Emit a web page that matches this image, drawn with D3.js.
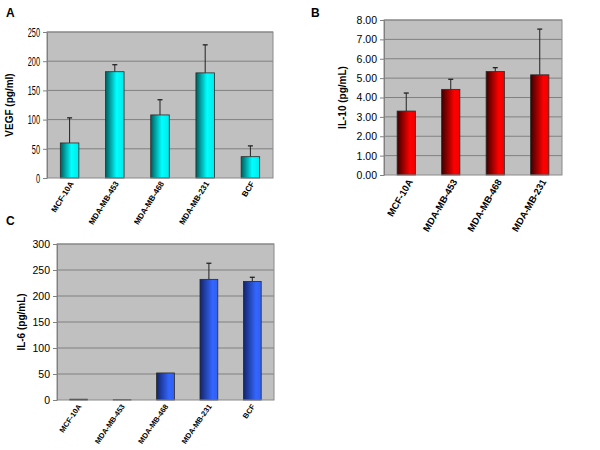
<!DOCTYPE html>
<html>
<head>
<meta charset="utf-8">
<script src="https://cdn.jsdelivr.net/npm/d3@7"></script>
<style>
  body { margin: 0; background: #fff; }
  text { font-family: Arial, "Liberation Sans", sans-serif; }
</style>
</head>
<body>
<script>
// values
var cellLines = ["MCF-10A", "MDA-MB-453", "MDA-MB-468", "MDA-MB-231", "BCF"];
var il10Lines = ["MCF-10A", "MDA-MB-453", "MDA-MB-468", "MDA-MB-231"];

var vegfMean = [60, 182, 108, 180, 36.5];
var vegfErr  = [43, 12, 26, 48, 18.5];

var il10Mean = [3.30, 4.42, 5.34, 5.17];
var il10Err  = [0.93, 0.52, 0.20, 2.36];

var il6Mean = [1.5, 0.5, 52, 232, 228];
var il6Err  = [0, 0, 0, 31, 8];

var vegfTicks = [0, 50, 100, 150, 200, 250];
var il10Ticks = [0, 1, 2, 3, 4, 5, 6, 7, 8];
var il6Ticks  = [0, 50, 100, 150, 200, 250, 300];

var width = 600, height = 450;

const svg = d3.select("body")
    .append("svg")
    .attr("width", width)
    .attr("height", height);

// bar gradients (dark left edge, bright right side)
var defs = svg.append("defs");
function gradient(id, stops) {
    var lg = defs.append("linearGradient").attr("id", id)
        .attr("x1", "0%").attr("x2", "100%").attr("y1", "0%").attr("y2", "0%");
    stops.forEach(s => lg.append("stop").attr("offset", s[0]).attr("stop-color", s[1]));
}
gradient("cyan", [["0%", "#005c5c"], ["60%", "#00ffff"], ["100%", "#00e8e8"]]);
gradient("red",  [["0%", "#3c0000"], ["70%", "#ff0000"], ["100%", "#f00000"]]);
gradient("blue", [["0%", "#14246a"], ["70%", "#3366ff"], ["100%", "#3060f0"]]);

var panels = [
    {letter: "A", lx: 6, ly: 17, cats: cellLines, mean: vegfMean, err: vegfErr, ticks: vegfTicks,
     left: 47, right: 273, top: 32, bottom: 178, fill: "url(#cyan)", fmt: d => d,
     title: "VEGF (pg/ml)", tx: 13, narrow: true, labelSize: 8, angle: -58, ldx: 2, ldy: 4},
    {letter: "B", lx: 311, ly: 17, cats: il10Lines, mean: il10Mean, err: il10Err, ticks: il10Ticks,
     left: 384, right: 562, top: 20, bottom: 175, fill: "url(#red)", fmt: d3.format(".2f"),
     title: "IL-10 (pg/mL)", tx: 346, narrow: false, labelSize: 9.5, angle: -60, ldx: 4, ldy: 5},
    {letter: "C", lx: 6, ly: 225, cats: cellLines, mean: il6Mean, err: il6Err, ticks: il6Ticks,
     left: 57, right: 274, top: 244, bottom: 400, fill: "url(#blue)", fmt: d => d,
     title: "IL-6 (pg/mL)", tx: 25, narrow: false, labelSize: 7.5, angle: -55, ldx: 1, ldy: 5}
];

panels.forEach(drawPanel);

function drawPanel(p) {
    var g = svg.append("g");

    var xscale = d3.scaleBand()
        .domain(p.cats)
        .range([p.left, p.right]);

    var yscale = d3.scaleLinear()
        .domain([0, d3.max(p.ticks)])
        .range([p.bottom, p.top]);

    var rows = p.cats.map((c, i) => ({cat: c, mean: p.mean[i], err: p.err[i]}));
    var bw = xscale.bandwidth() * 0.41;

    // plot area
    g.append("rect")
        .attr("x", p.left).attr("y", p.top)
        .attr("width", p.right - p.left).attr("height", p.bottom - p.top)
        .attr("fill", "#c0c0c0");

    // gridlines
    g.selectAll(".grid")
        .data(p.ticks.filter(t => t > 0))
        .join("line")
        .attr("x1", p.left).attr("x2", p.right)
        .attr("y1", d => yscale(d)).attr("y2", d => yscale(d))
        .attr("stroke", "#808080")
        .attr("stroke-width", 1);

    // error bars (upper only)
    var eb = g.selectAll(".err")
        .data(rows.filter(d => d.err > 0))
        .join("g");
    eb.append("line")
        .attr("x1", d => xscale(d.cat) + xscale.bandwidth() / 2)
        .attr("x2", d => xscale(d.cat) + xscale.bandwidth() / 2)
        .attr("y1", d => yscale(d.mean))
        .attr("y2", d => yscale(d.mean + d.err))
        .attr("stroke", "#222").attr("stroke-width", 1);
    eb.append("line")
        .attr("x1", d => xscale(d.cat) + xscale.bandwidth() / 2 - 2.5)
        .attr("x2", d => xscale(d.cat) + xscale.bandwidth() / 2 + 2.5)
        .attr("y1", d => yscale(d.mean + d.err))
        .attr("y2", d => yscale(d.mean + d.err))
        .attr("stroke", "#222").attr("stroke-width", 1.3);

    // bars
    g.selectAll(".bar")
        .data(rows)
        .join("rect")
        .attr("x", d => xscale(d.cat) + (xscale.bandwidth() - bw) / 2)
        .attr("y", d => yscale(d.mean))
        .attr("width", bw)
        .attr("height", d => yscale(0) - yscale(d.mean))
        .attr("fill", p.fill)
        .attr("stroke", "#2a2a2a")
        .attr("stroke-width", 0.8);

    // plot border
    g.append("rect")
        .attr("x", p.left).attr("y", p.top)
        .attr("width", p.right - p.left).attr("height", p.bottom - p.top)
        .attr("fill", "none")
        .attr("stroke", "#8a8a8a")
        .attr("stroke-width", 1);

    // y-axis
    var ya = g.append("g")
        .attr("transform", `translate(${p.left},0)`)
        .call(d3.axisLeft(yscale).tickValues(p.ticks).tickFormat(p.fmt).tickSize(4).tickPadding(3).tickSizeOuter(0));
    ya.select(".domain").attr("stroke", "#808080");
    ya.selectAll(".tick line").attr("stroke", "#808080");
    ya.selectAll(".tick text")
        .attr("fill", "#000")
        .attr("font-family", "Arial, 'Liberation Sans', sans-serif");
    if (p.narrow) {
        // condensed digits as in the original panel A
        ya.selectAll(".tick text")
            .attr("font-size", 13.5)
            .attr("textLength", function() { return this.textContent.length * 4.1; })
            .attr("lengthAdjust", "spacingAndGlyphs");
    } else {
        ya.selectAll(".tick text").attr("font-size", 10.5);
    }

    // x labels
    g.selectAll(".xlab")
        .data(p.cats)
        .join("text")
        .attr("transform", d => `translate(${xscale(d) + xscale.bandwidth() / 2 + p.ldx},${p.bottom + p.ldy}) rotate(${p.angle})`)
        .attr("text-anchor", "end")
        .attr("dy", "0.35em")
        .attr("font-size", p.labelSize)
        .attr("font-weight", "bold")
        .text(d => d);

    // y title
    g.append("text")
        .attr("transform", `translate(${p.tx},${(p.top + p.bottom) / 2}) rotate(-90)`)
        .attr("text-anchor", "middle")
        .attr("font-size", 10)
        .attr("font-weight", "bold")
        .text(p.title);

    // panel letter
    svg.append("text")
        .attr("x", p.lx).attr("y", p.ly)
        .attr("font-size", 12)
        .attr("font-weight", "bold")
        .text(p.letter);
}
</script>
</body>
</html>
